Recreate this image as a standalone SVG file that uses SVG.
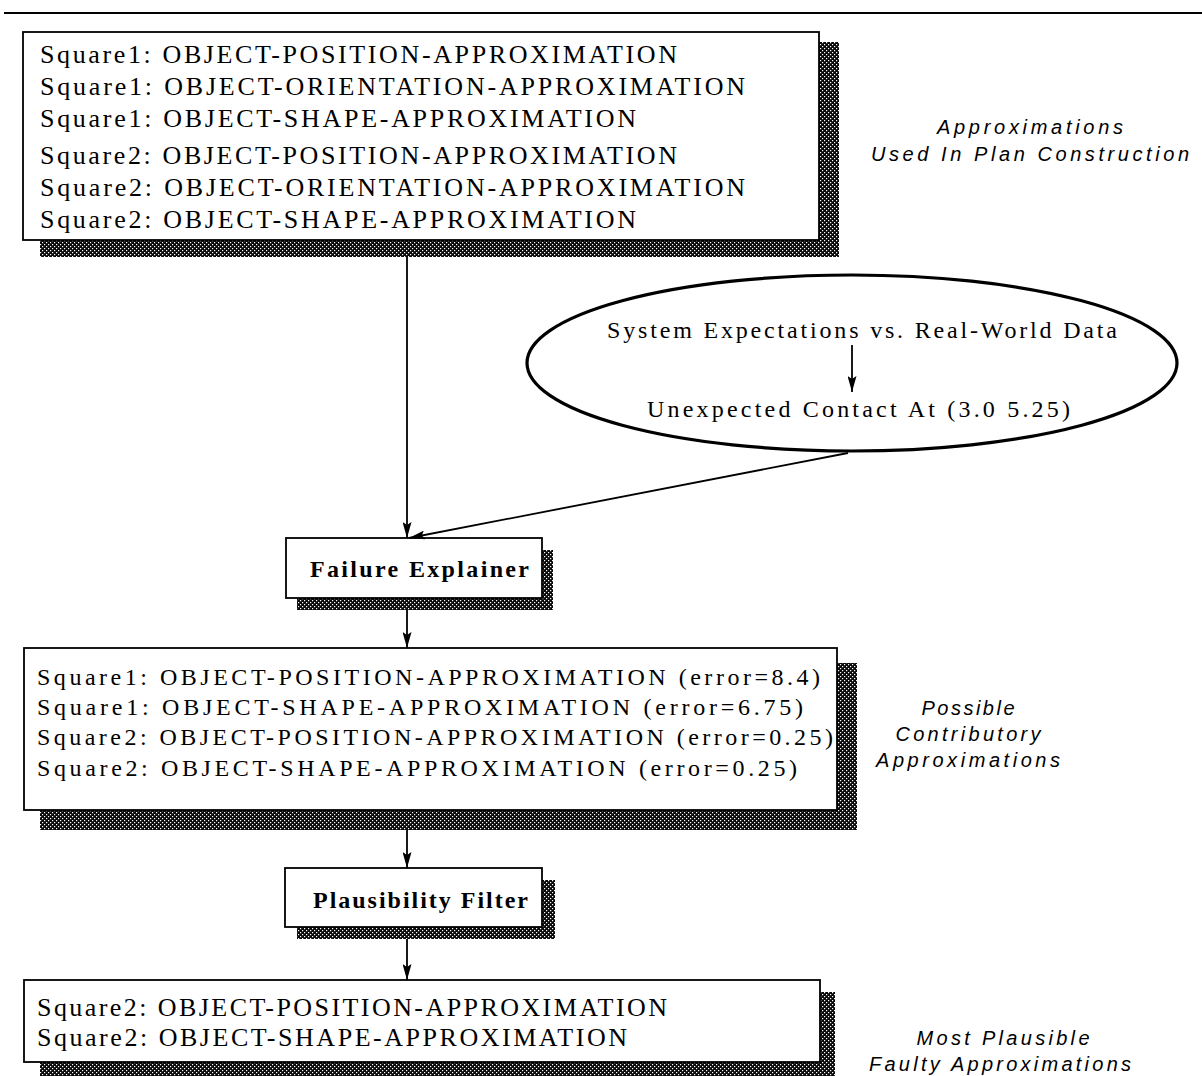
<svg xmlns="http://www.w3.org/2000/svg" width="1202" height="1076" viewBox="0 0 1202 1076">
  <defs>
    <pattern id="halftone" width="4" height="4" patternUnits="userSpaceOnUse">
      <rect width="4" height="4" fill="#0a0a0a"/>
      <rect x="0" y="0" width="1.2" height="1.2" fill="#fff"/>
      <rect x="2" y="2" width="1.2" height="1.2" fill="#fff"/>
    </pattern>
    <marker id="arrow" viewBox="0 0 16 9" refX="16" refY="4.5" markerWidth="16" markerHeight="9" markerUnits="userSpaceOnUse" orient="auto">
      <path d="M0,0 L16,4.5 L0,9 L3,4.5 z" fill="#000"/>
    </marker>
  </defs>
  <style>
    .box { fill: #fff; stroke: #000; stroke-width: 1.8; }
    .shadow { fill: url(#halftone); }
    .txt { font-family: "Liberation Serif", "Times New Roman", serif; font-size: 26px; fill: #000; }
    .txt2 { font-family: "Liberation Serif", "Times New Roman", serif; font-size: 24px; fill: #000; }
    .bold { font-family: "Liberation Serif", "Times New Roman", serif; font-size: 24px; font-weight: bold; fill: #000; }
    .lbl { font-family: "Liberation Sans", Arial, sans-serif; font-size: 20px; font-style: italic; fill: #000; text-anchor: middle; }
    .conn { stroke: #000; stroke-width: 1.8; fill: none; marker-end: url(#arrow); }
  </style>
  <rect width="1202" height="1076" fill="#fff"/>
  <line x1="4" y1="13" x2="1202" y2="13" stroke="#000" stroke-width="2"/>

  <g id="approximations-used">
    <rect class="shadow" x="819" y="42" width="20" height="215"/>
    <rect class="shadow" x="40" y="240" width="799" height="17"/>
    <rect class="box" x="23" y="32" width="796" height="208"/>
    <text class="txt" x="40" y="63" textLength="637" lengthAdjust="spacing">Square1: OBJECT-POSITION-APPROXIMATION</text>
    <text class="txt" x="40" y="95" textLength="705" lengthAdjust="spacing">Square1: OBJECT-ORIENTATION-APPROXIMATION</text>
    <text class="txt" x="40" y="127" textLength="596" lengthAdjust="spacing">Square1: OBJECT-SHAPE-APPROXIMATION</text>
    <text class="txt" x="40" y="164" textLength="637" lengthAdjust="spacing">Square2: OBJECT-POSITION-APPROXIMATION</text>
    <text class="txt" x="40" y="196" textLength="705" lengthAdjust="spacing">Square2: OBJECT-ORIENTATION-APPROXIMATION</text>
    <text class="txt" x="40" y="228" textLength="596" lengthAdjust="spacing">Square2: OBJECT-SHAPE-APPROXIMATION</text>
  </g>
  <g id="label-approximations-used">
    <text class="lbl" x="1030" y="134" textLength="186" lengthAdjust="spacing">Approximations</text>
    <text class="lbl" x="1030" y="161" textLength="318" lengthAdjust="spacing">Used In Plan Construction</text>
  </g>

  <g id="observation">
    <ellipse cx="852" cy="363" rx="325" ry="88" fill="#fff" stroke="#000" stroke-width="3.2"/>
    <text class="txt2" x="607" y="338" textLength="510" lengthAdjust="spacing">System Expectations vs. Real-World Data</text>
    <text class="txt2" x="647" y="417" textLength="423" lengthAdjust="spacing">Unexpected Contact At (3.0 5.25)</text>
  </g>

  <g id="failure-explainer">
    <rect class="shadow" x="542" y="550" width="11" height="60"/>
    <rect class="shadow" x="297" y="598" width="256" height="12"/>
    <rect class="box" x="286" y="538" width="256" height="60"/>
    <text class="bold" x="310" y="577" textLength="219" lengthAdjust="spacing">Failure Explainer</text>
  </g>

  <g id="possible-contributory">
    <rect class="shadow" x="837" y="663" width="20" height="167"/>
    <rect class="shadow" x="40" y="810" width="817" height="20"/>
    <rect class="box" x="24" y="648" width="813" height="162"/>
    <text class="txt2" x="37" y="685" textLength="783" lengthAdjust="spacing">Square1: OBJECT-POSITION-APPROXIMATION (error=8.4)</text>
    <text class="txt2" x="37" y="715" textLength="766" lengthAdjust="spacing">Square1: OBJECT-SHAPE-APPROXIMATION (error=6.75)</text>
    <text class="txt2" x="37" y="745" textLength="796" lengthAdjust="spacing">Square2: OBJECT-POSITION-APPROXIMATION (error=0.25)</text>
    <text class="txt2" x="37" y="776" textLength="760" lengthAdjust="spacing">Square2: OBJECT-SHAPE-APPROXIMATION (error=0.25)</text>
  </g>
  <g id="label-possible-contributory">
    <text class="lbl" x="968" y="715" textLength="93" lengthAdjust="spacing">Possible</text>
    <text class="lbl" x="968" y="741" textLength="145" lengthAdjust="spacing">Contributory</text>
    <text class="lbl" x="968" y="767" textLength="184" lengthAdjust="spacing">Approximations</text>
  </g>

  <g id="plausibility-filter">
    <rect class="shadow" x="542" y="880" width="13" height="59"/>
    <rect class="shadow" x="297" y="927" width="258" height="12"/>
    <rect class="box" x="285" y="868" width="257" height="59"/>
    <text class="bold" x="313" y="908" textLength="215" lengthAdjust="spacing">Plausibility Filter</text>
  </g>

  <g id="most-plausible">
    <rect class="shadow" x="820" y="992" width="15" height="84"/>
    <rect class="shadow" x="40" y="1062" width="795" height="14"/>
    <rect class="box" x="24" y="980" width="796" height="82"/>
    <text class="txt" x="37" y="1016" textLength="630" lengthAdjust="spacing">Square2: OBJECT-POSITION-APPROXIMATION</text>
    <text class="txt" x="37" y="1046" textLength="590" lengthAdjust="spacing">Square2: OBJECT-SHAPE-APPROXIMATION</text>
  </g>
  <g id="label-most-plausible">
    <text class="lbl" x="1003" y="1045" textLength="173" lengthAdjust="spacing">Most Plausible</text>
    <text class="lbl" x="1000" y="1071" textLength="262" lengthAdjust="spacing">Faulty Approximations</text>
  </g>

  <g id="connectors">
    <line class="conn" x1="407" y1="257" x2="407" y2="538"/>
    <line class="conn" x1="848" y1="453" x2="409" y2="538"/>
    <line class="conn" x1="852" y1="345" x2="852" y2="392"/>
    <line class="conn" x1="407" y1="610" x2="407" y2="648"/>
    <line class="conn" x1="407" y1="830" x2="407" y2="868"/>
    <line class="conn" x1="407" y1="939" x2="407" y2="980"/>
  </g>
</svg>
